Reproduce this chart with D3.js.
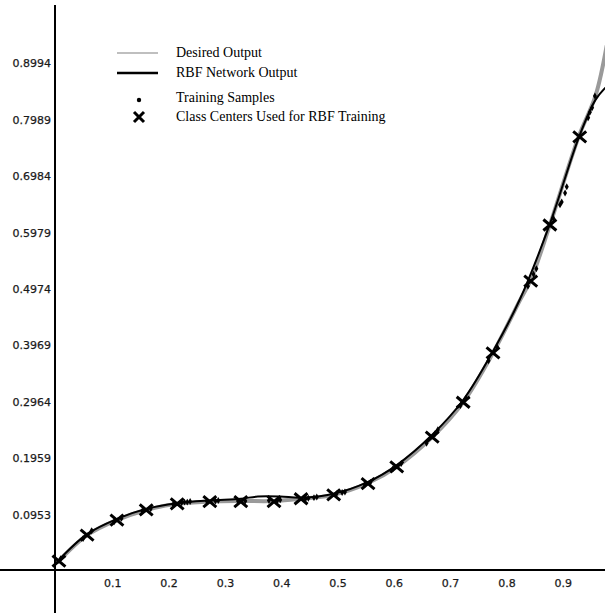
<!DOCTYPE html>
<html>
<head>
<meta charset="utf-8">
<script src="https://cdn.jsdelivr.net/npm/d3@7"></script>
<style>
  html, body { margin: 0; padding: 0; background: #fff; }
  svg { display: block; }
</style>
</head>
<body>
<svg id="chart" width="605" height="613"></svg>
<script>
// ---------------- data ----------------
const xTickValues = [0.1, 0.2, 0.3, 0.4, 0.5, 0.6, 0.7, 0.8, 0.9];
const xTickLabels = ["0.1", "0.2", "0.3", "0.4", "0.5", "0.6", "0.7", "0.8", "0.9"];
const yTickValues = [0.0953, 0.1959, 0.2964, 0.3969, 0.4974, 0.5979, 0.6984, 0.7989, 0.8994];
const yTickLabels = ["0.0953", "0.1959", "0.2964", "0.3969", "0.4974", "0.5979", "0.6984", "0.7989", "0.8994"];

const desiredX = [0.004, 0.057, 0.110, 0.162, 0.217, 0.275, 0.330, 0.389, 0.437, 0.495, 0.556, 0.607, 0.670, 0.725, 0.778, 0.826, 0.845, 0.879, 0.930, 0.960, 0.980];
const desiredY = [0.013, 0.062, 0.089, 0.107, 0.118, 0.122, 0.123, 0.123, 0.127, 0.134, 0.155, 0.184, 0.237, 0.299, 0.387, 0.481, 0.517, 0.615, 0.772, 0.845, 0.935];

const rbfX = [0.004, 0.057, 0.110, 0.162, 0.217, 0.275, 0.330, 0.360, 0.400, 0.437, 0.495, 0.556, 0.607, 0.670, 0.725, 0.778, 0.826, 0.879, 0.930, 0.960, 0.980];
const rbfY = [0.015, 0.064, 0.091, 0.109, 0.119, 0.124, 0.127, 0.131, 0.131, 0.129, 0.136, 0.157, 0.187, 0.241, 0.303, 0.390, 0.483, 0.617, 0.770, 0.838, 0.862];

const sampleX = [0.010, 0.050, 0.065, 0.105, 0.118, 0.155, 0.170, 0.210, 0.225, 0.230, 0.235, 0.240, 0.270, 0.285, 0.290, 0.325, 0.338, 0.380, 0.395, 0.400, 0.445, 0.450, 0.460, 0.465, 0.500, 0.510, 0.515, 0.550, 0.560, 0.600, 0.615, 0.660, 0.675, 0.680, 0.720, 0.730, 0.770, 0.785, 0.840, 0.850, 0.855, 0.885, 0.897, 0.900, 0.906, 0.909, 0.947, 0.950, 0.954, 0.959];
const sampleY = [0.020, 0.056, 0.070, 0.086, 0.092, 0.105, 0.109, 0.117, 0.120, 0.121, 0.121, 0.122, 0.122, 0.123, 0.124, 0.123, 0.123, 0.124, 0.124, 0.125, 0.127, 0.128, 0.129, 0.130, 0.136, 0.138, 0.139, 0.152, 0.156, 0.180, 0.190, 0.226, 0.243, 0.250, 0.293, 0.306, 0.373, 0.398, 0.506, 0.527, 0.537, 0.627, 0.651, 0.656, 0.672, 0.683, 0.806, 0.816, 0.824, 0.845];

const centerX = [0.007, 0.057, 0.110, 0.162, 0.217, 0.275, 0.330, 0.389, 0.437, 0.495, 0.556, 0.607, 0.670, 0.725, 0.778, 0.845, 0.879, 0.932];
const centerY = [0.016, 0.062, 0.089, 0.107, 0.118, 0.122, 0.122, 0.122, 0.127, 0.134, 0.154, 0.184, 0.237, 0.299, 0.387, 0.515, 0.615, 0.772];

const legendLabels = ["Desired Output", "RBF Network Output", "Training Samples", "Class Centers Used for RBF Training"];

// ---------------- layout ----------------
const W = 605, H = 613;
const x = d3.scaleLinear().domain([0, 1]).range([55, 55 + 563]);
const y = d3.scaleLinear().domain([0, 1]).range([570, 570 - 561]);

const svg = d3.select("#chart");
svg.append("rect").attr("width", W).attr("height", H).attr("fill", "#fff");

// axes lines
svg.append("line").attr("x1", 0).attr("x2", W).attr("y1", y(0)).attr("y2", y(0))
  .attr("stroke", "#000").attr("stroke-width", 2);
svg.append("line").attr("x1", x(0)).attr("x2", x(0)).attr("y1", 5).attr("y2", H)
  .attr("stroke", "#000").attr("stroke-width", 2);

// x axis labels
const xAxis = d3.axisBottom(x).tickValues(xTickValues).tickSize(0)
  .tickFormat((d, i) => xTickLabels[i]);
const gx = svg.append("g").attr("transform", `translate(1,${y(0)})`).call(xAxis);
gx.select(".domain").remove();
gx.selectAll("text").attr("y", 17).attr("dy", 0)
  .attr("font-family", "DejaVu Sans, sans-serif").attr("font-size", 11).attr("fill", "#1a1a1a")
  .attr("stroke", "#1a1a1a").attr("stroke-width", 0.25);

// y axis labels
const yAxis = d3.axisLeft(y).tickValues(yTickValues).tickSize(0).tickPadding(4)
  .tickFormat((d, i) => yTickLabels[i]);
const gy = svg.append("g").attr("transform", `translate(${x(0)},0)`).call(yAxis);
gy.select(".domain").remove();
gy.selectAll("text").attr("dy", 0).attr("y", 1.5)
  .attr("font-family", "DejaVu Sans, sans-serif").attr("font-size", 11).attr("fill", "#1a1a1a")
  .attr("stroke", "#1a1a1a").attr("stroke-width", 0.25);

// curves
svg.append("clipPath").attr("id", "plotclip")
  .append("rect").attr("x", 0).attr("y", 0).attr("width", W).attr("height", H);
const plot = svg.append("g").attr("clip-path", "url(#plotclip)");

const line = d3.line().x(d => x(d[0])).y(d => y(d[1])).curve(d3.curveCatmullRom.alpha(0.5));
const desired = desiredX.map((v, i) => [v, desiredY[i]]);
const rbf = rbfX.map((v, i) => [v, rbfY[i]]);

plot.append("path").datum(desired).attr("d", line)
  .attr("fill", "none").attr("stroke", "#9a9a9a").attr("stroke-width", 4);
plot.append("path").datum(rbf).attr("d", line)
  .attr("fill", "none").attr("stroke", "#000").attr("stroke-width", 2);

// training samples
const diamond = d3.symbol().type(d3.symbolDiamond).size(14);
plot.selectAll("path.sample").data(sampleX.map((v, i) => [v, sampleY[i]])).join("path")
  .attr("class", "sample").attr("d", diamond)
  .attr("transform", d => `translate(${x(d[0])},${y(d[1])})`).attr("fill", "#000");

// class centers (X marks)
function drawX(g, cx, cy, rx, ry, sw) {
  g.append("path")
    .attr("d", `M${cx - rx},${cy - ry}L${cx + rx},${cy + ry}M${cx - rx},${cy + ry}L${cx + rx},${cy - ry}`)
    .attr("stroke", "#000").attr("stroke-width", sw).attr("fill", "none");
}
const centersG = plot.append("g");
centerX.forEach((v, i) => drawX(centersG, x(v), y(centerY[i]), 6.5, 5.5, 3));

// legend
const lg = svg.append("g");
const legY = [57, 77, 102, 121];
const textX = 176;
lg.append("line").attr("x1", 117).attr("x2", 158).attr("y1", 53).attr("y2", 53)
  .attr("stroke", "#aaa").attr("stroke-width", 1.3);
lg.append("line").attr("x1", 117).attr("x2", 158).attr("y1", 73).attr("y2", 73)
  .attr("stroke", "#000").attr("stroke-width", 2.5);
lg.append("circle").attr("cx", 139).attr("cy", 100).attr("r", 2.2).attr("fill", "#000");
drawX(lg, 139, 117, 5, 5, 3);
legendLabels.forEach((t, i) => {
  lg.append("text").attr("x", textX).attr("y", legY[i]).text(t)
    .attr("font-family", "Liberation Serif, Times New Roman, serif").attr("font-size", 14)
    .attr("fill", "#000");
});
</script>
</body>
</html>
